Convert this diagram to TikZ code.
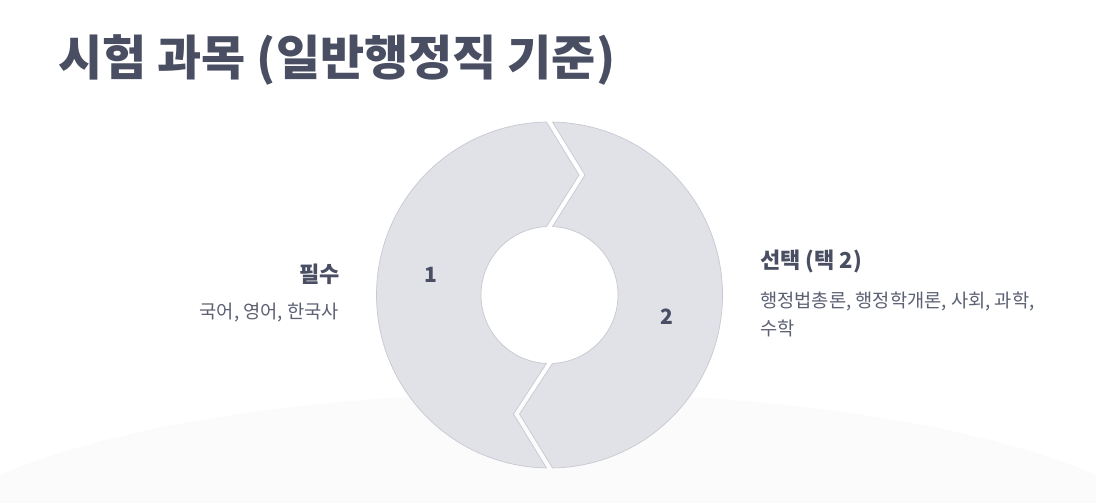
\documentclass[tikz,border=0pt]{standalone}
\usepackage{fontspec}
\setmainfont{Noto Sans CJK KR}
\definecolor{titlec}{HTML}{4A4E63}
\definecolor{subc}{HTML}{5C6073}
\definecolor{segfill}{HTML}{E1E2E8}
\definecolor{segline}{HTML}{C8C9D1}
\definecolor{bgfaint}{HTML}{FBFBFC}
\tikzset{
  seg/.style={fill=segfill, draw=segline, line width=0.7pt, line join=round},
  numlbl/.style={font=\bfseries\fontsize{21}{24}\selectfont, text=titlec, inner sep=0pt, anchor=base},
  headlbl/.style={font=\bfseries\fontsize{22}{26}\selectfont, text=titlec, inner sep=0pt},
  bodylbl/.style={font=\fontsize{18.7}{22}\selectfont, text=subc, inner sep=0pt},
}
\begin{document}
\begin{tikzpicture}[x=1pt,y=1pt]
\useasboundingbox (0,0) rectangle (1096,503);
\fill[white] (0,0) rectangle (1096,503);
\begin{scope}
\clip (0,0) rectangle (1096,503);
\fill[bgfaint] (548,-60) ellipse[x radius=640pt, y radius=170pt];
\end{scope}
% title
\node[font=\bfseries\fontsize{48}{54}\selectfont, text=titlec, inner sep=0pt, anchor=base west] (title) at (58,427) {시험 과목 (일반행정직 기준)};
% left segment
\path[seg] (546.48,380.97) -- (579,328) -- (546.51,276.43)
  arc[start angle=92.5, end angle=267.5, radius=68.5pt]
  -- (513.5,89) -- (546.48,35.03)
  arc[start angle=269, end angle=91, radius=173pt] -- cycle;
% right segment
\path[seg] (552.52,380.97)
  arc[start angle=89, end angle=-89, radius=173pt]
  -- (519.5,89) -- (552.49,139.57)
  arc[start angle=-87.5, end angle=87.5, radius=68.5pt]
  -- (585,328) -- cycle;
\node[numlbl] (n1) at (431,220) {1};
\node[numlbl] (n2) at (667,178) {2};
% left labels
\node[headlbl, anchor=base east] (reqh) at (340,220) {필수};
\node[bodylbl, anchor=base east] (reqb) at (339,184) {국어, 영어, 한국사};
% right labels
\node[headlbl, anchor=base west] (opth) at (760,234) {선택 (택 2)};
\node[bodylbl, anchor=base west] (optb1) at (760,195) {행정법총론, 행정학개론, 사회, 과학,};
\node[bodylbl, anchor=base west] (optb2) at (760,167) {수학};
\end{tikzpicture}
\end{document}
